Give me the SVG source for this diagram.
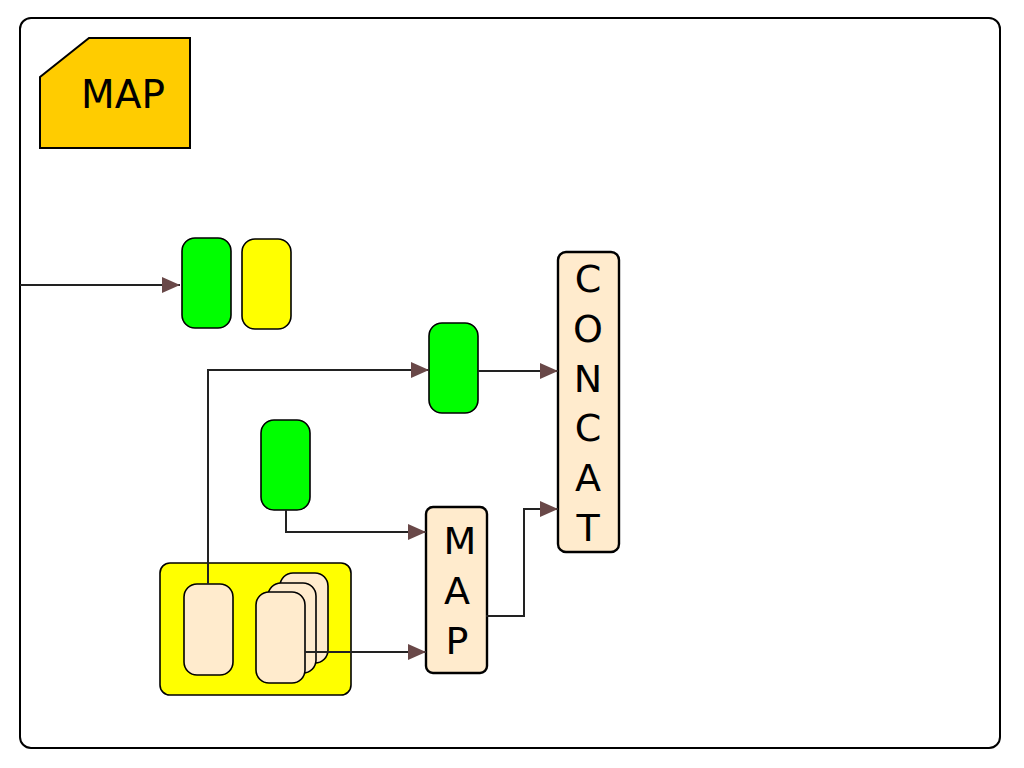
<svg xmlns="http://www.w3.org/2000/svg" width="1024" height="768" viewBox="0 0 1024 768">
<defs>
<marker id="arr" markerWidth="18" markerHeight="16" refX="18" refY="8" orient="auto" markerUnits="userSpaceOnUse">
<path d="M0,0 L18,8 L0,16 Z" fill="#694848"/>
</marker>
<style>
.frame{fill:#fff;stroke:#000;stroke-width:2}
.pill{stroke:#000;stroke-width:1.6}
.green{fill:#00ff00}
.yellow{fill:#ffff00}
.beige{fill:#ffebcd}
.op{fill:#ffebcd;stroke:#000;stroke-width:2.4}
.conn{fill:none;stroke:#222;stroke-width:2}
.lbl{font-family:"DejaVu Sans","Liberation Sans",sans-serif;fill:#000;text-anchor:middle}
</style>
</defs>
<rect class="frame" x="20" y="18" width="980" height="730" rx="11"/>
<g id="title">
<polygon points="40,77 89,38 190,38 190,148 40,148" fill="#ffcc00" stroke="#000" stroke-width="2"/>
<text class="lbl" x="123" y="108" font-size="39">MAP</text>
</g>
<g id="container">
<rect class="pill yellow" x="160" y="563" width="191" height="132" rx="10"/>
</g>
<g id="node-in1"><rect class="pill green" x="182" y="238" width="49" height="90" rx="13"/></g>
<g id="node-in2"><rect class="pill yellow" x="242" y="239" width="49" height="90" rx="13"/></g>
<g id="node-g2"><rect class="pill green" x="429" y="323" width="49" height="90" rx="13"/></g>
<g id="node-g3"><rect class="pill green" x="261" y="420" width="49" height="90" rx="13"/></g>
<g id="node-b1"><rect class="pill beige" x="184" y="584" width="49" height="91" rx="13"/></g>
<g id="node-stack">
<rect class="pill beige" x="280" y="573" width="48" height="90" rx="13"/>
<rect class="pill beige" x="268" y="583" width="48" height="90" rx="13"/>
<rect class="pill beige" x="256" y="592" width="49" height="91" rx="13"/>
</g>
<g id="node-concat">
<rect class="op" x="558" y="252" width="61" height="300" rx="8"/>
<text class="lbl" font-size="38"><tspan x="588" y="292">C</tspan><tspan x="588" y="342">O</tspan><tspan x="588" y="392">N</tspan><tspan x="588" y="441">C</tspan><tspan x="588" y="491">A</tspan><tspan x="588" y="541">T</tspan></text>
</g>
<g id="node-map">
<rect class="op" x="426" y="507" width="61" height="166" rx="7"/>
<text class="lbl" font-size="38"><tspan x="460" y="554">M</tspan><tspan x="457" y="604">A</tspan><tspan x="457" y="654">P</tspan></text>
</g>
<g id="connectors">
<path class="conn" d="M20,285 H180" marker-end="url(#arr)"/>
<path class="conn" d="M208,584 V370 H429" marker-end="url(#arr)"/>
<path class="conn" d="M478,371 H558" marker-end="url(#arr)"/>
<path class="conn" d="M286,510 V532 H426" marker-end="url(#arr)"/>
<path class="conn" d="M305,652 H426" marker-end="url(#arr)"/>
<path class="conn" d="M486,616 H524 V509 H558" stroke="#000" marker-end="url(#arr)"/>
</g>
</svg>
